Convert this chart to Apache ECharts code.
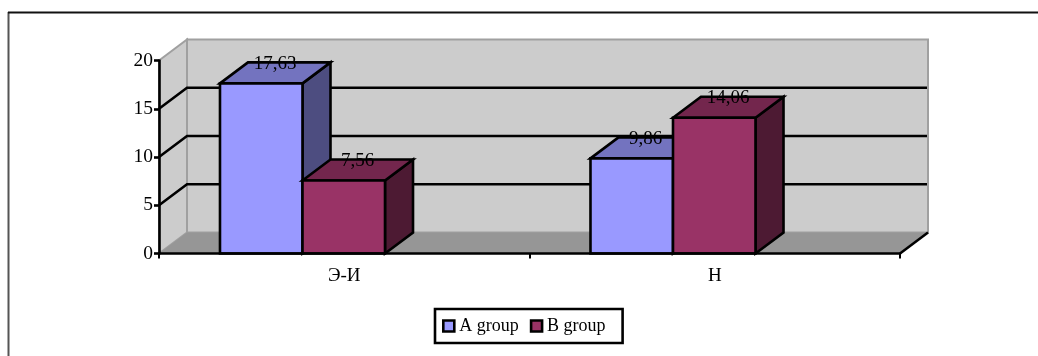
<!DOCTYPE html>
<html>
<head>
<meta charset="utf-8">
<style>html,body{margin:0;padding:0;background:#fff}#chart{width:1038px;height:356px}</style>
<script src="https://cdn.jsdelivr.net/npm/echarts@6/dist/echarts.min.js"></script>
</head>
<body>
<div id="chart"></div>
<script>
const categories = ['Э-И', 'Н'];
const aGroup = [17.63, 9.86];
const bGroup = [7.56, 14.06];
const gridValues = [5, 10, 15];

const FONT = '"Liberation Serif", serif';
const DEPTH_X = 28;
const DEPTH_Y = -21;
const BAR_WIDTH_RATIO = 0.2227;
const CLUSTER_LEFT_RATIO = -0.3354;
const INK = 2.6;

// Back wall, side wall, floor and the receding grid lines.
function renderRoom(params, api) {
  const c = params.coordSys;
  const l = c.x, r = c.x + c.width, t = c.y, b = c.y + c.height;
  const edge = { fill: '#CCCCCC', stroke: '#A0A0A0', lineWidth: 2, lineJoin: 'miter' };
  const children = [
    { type: 'polygon', shape: { points: [[l, t], [l + DEPTH_X, t + DEPTH_Y], [l + DEPTH_X, b + DEPTH_Y], [l, b]] }, style: edge },
    { type: 'polygon', shape: { points: [[l + DEPTH_X, t + DEPTH_Y], [r + DEPTH_X, t + DEPTH_Y], [r + DEPTH_X, b + DEPTH_Y], [l + DEPTH_X, b + DEPTH_Y]] }, style: edge },
    { type: 'polygon', shape: { points: [[l, b], [l + DEPTH_X, b + DEPTH_Y], [r + DEPTH_X, b + DEPTH_Y], [r, b]] }, style: { fill: '#969696' } },
    { type: 'line', shape: { x1: r, y1: b, x2: r + DEPTH_X, y2: b + DEPTH_Y }, style: { stroke: '#000', lineWidth: INK } }
  ];
  gridValues.forEach(function (v) {
    const y = api.coord([0, v])[1];
    children.push({
      type: 'polyline',
      shape: { points: [[l, y], [l + DEPTH_X, y + DEPTH_Y], [r + DEPTH_X - 1, y + DEPTH_Y]] },
      style: { fill: null, stroke: '#000', lineWidth: INK }
    });
  });
  return { type: 'group', children: children };
}

// One extruded column: side and top faces behind the front face.
function columnRenderer(slot, front, top, side) {
  return function (params, api) {
    const band = api.size([1, 0])[0];
    const centre = api.coord([api.value(0), 0])[0];
    const w = band * BAR_WIDTH_RATIO;
    const x0 = centre + band * CLUSTER_LEFT_RATIO + slot * w;
    const x1 = x0 + w;
    const yBase = api.coord([api.value(0), 0])[1];
    const yTop = api.coord([api.value(0), api.value(1)])[1];
    const line = { stroke: '#000', lineWidth: INK, lineJoin: 'miter' };
    return {
      type: 'group',
      children: [
        { type: 'polygon', shape: { points: [[x1, yBase], [x1 + DEPTH_X, yBase + DEPTH_Y], [x1 + DEPTH_X, yTop + DEPTH_Y], [x1, yTop]] }, style: Object.assign({ fill: side }, line) },
        { type: 'polygon', shape: { points: [[x0, yTop], [x0 + DEPTH_X, yTop + DEPTH_Y], [x1 + DEPTH_X, yTop + DEPTH_Y], [x1, yTop]] }, style: Object.assign({ fill: top }, line) },
        { type: 'rect', shape: { x: x0, y: yTop, width: w, height: yBase - yTop }, style: Object.assign({ fill: front }, line) }
      ]
    };
  };
}

// Value text on the back top edge, kept in its own series so it stays above every column.
function labelRenderer(slot) {
  return function (params, api) {
    const band = api.size([1, 0])[0];
    const centre = api.coord([api.value(0), 0])[0];
    const w = band * BAR_WIDTH_RATIO;
    const x = centre + band * CLUSTER_LEFT_RATIO + slot * w + w / 2 + DEPTH_X / 2;
    const y = api.coord([api.value(0), api.value(1)])[1] + DEPTH_Y + 1.5;
    return {
      type: 'text',
      style: {
        x: x, y: y,
        text: String(api.value(1)).replace('.', ','),
        align: 'center', verticalAlign: 'middle',
        font: '19px ' + FONT, fill: '#000'
      }
    };
  };
}

const pairs = function (values) { return values.map(function (v, i) { return [i, v]; }); };

const chart = echarts.init(document.getElementById('chart'), null, { renderer: 'canvas' });
chart.setOption({
  animation: false,
  backgroundColor: '#fff',
  textStyle: { fontFamily: FONT },
  graphic: [
    { type: 'line', silent: true, shape: { x1: 8.5, y1: 12, x2: 8.5, y2: 356 }, style: { stroke: '#555', lineWidth: 2 } },
    { type: 'line', silent: true, shape: { x1: 8, y1: 12.5, x2: 1038, y2: 12.5 }, style: { stroke: '#111', lineWidth: 2 } }
  ],
  grid: { left: 159, right: 138, top: 60.5, bottom: 102.5, containLabel: false },
  xAxis: {
    type: 'category', data: categories, z: 10,
    axisLine: { lineStyle: { color: '#000', width: INK } },
    axisTick: { show: true, length: 5, lineStyle: { color: '#000', width: 2 } },
    axisLabel: { color: '#000', fontSize: 19, fontFamily: FONT, margin: 13 },
    splitLine: { show: false }
  },
  yAxis: {
    type: 'value', min: 0, max: 20, interval: 5, z: 10,
    axisLine: { show: true, lineStyle: { color: '#000', width: INK } },
    axisTick: { show: true, length: 5, lineStyle: { color: '#000', width: INK } },
    axisLabel: { color: '#000', fontSize: 19.5, fontFamily: FONT, margin: 6, padding: [3, 0, 0, 0] },
    splitLine: { show: false }
  },
  legend: {
    left: 435, top: 309,
    data: [
      { name: 'A group', icon: 'rect', itemStyle: { color: '#9999FF', borderColor: '#000', borderWidth: INK } },
      { name: 'B group', icon: 'rect', itemStyle: { color: '#993366', borderColor: '#000', borderWidth: INK } }
    ],
    itemWidth: 11, itemHeight: 11, itemGap: 11,
    padding: [8, 17, 8, 7],
    borderColor: '#000', borderWidth: INK, backgroundColor: '#fff',
    selectedMode: false,
    textStyle: { color: '#000', fontSize: 18, fontFamily: FONT }
  },
  series: [
    { type: 'custom', name: 'room', silent: true, z: 1, clip: false, data: [[0, 0]], renderItem: renderRoom },
    { type: 'custom', name: 'A group', z: 2, clip: false, itemStyle: { color: '#9999FF' }, data: pairs(aGroup), renderItem: columnRenderer(0, '#9999FF', '#7373BF', '#4D4D80') },
    { type: 'custom', name: 'B group', z: 3, clip: false, itemStyle: { color: '#993366' }, data: pairs(bGroup), renderItem: columnRenderer(1, '#993366', '#73264D', '#4D1A33') },
    { type: 'custom', name: 'A values', silent: true, z: 4, clip: false, data: pairs(aGroup), renderItem: labelRenderer(0) },
    { type: 'custom', name: 'B values', silent: true, z: 4, clip: false, data: pairs(bGroup), renderItem: labelRenderer(1) }
  ]
});
</script>
</body>
</html>
